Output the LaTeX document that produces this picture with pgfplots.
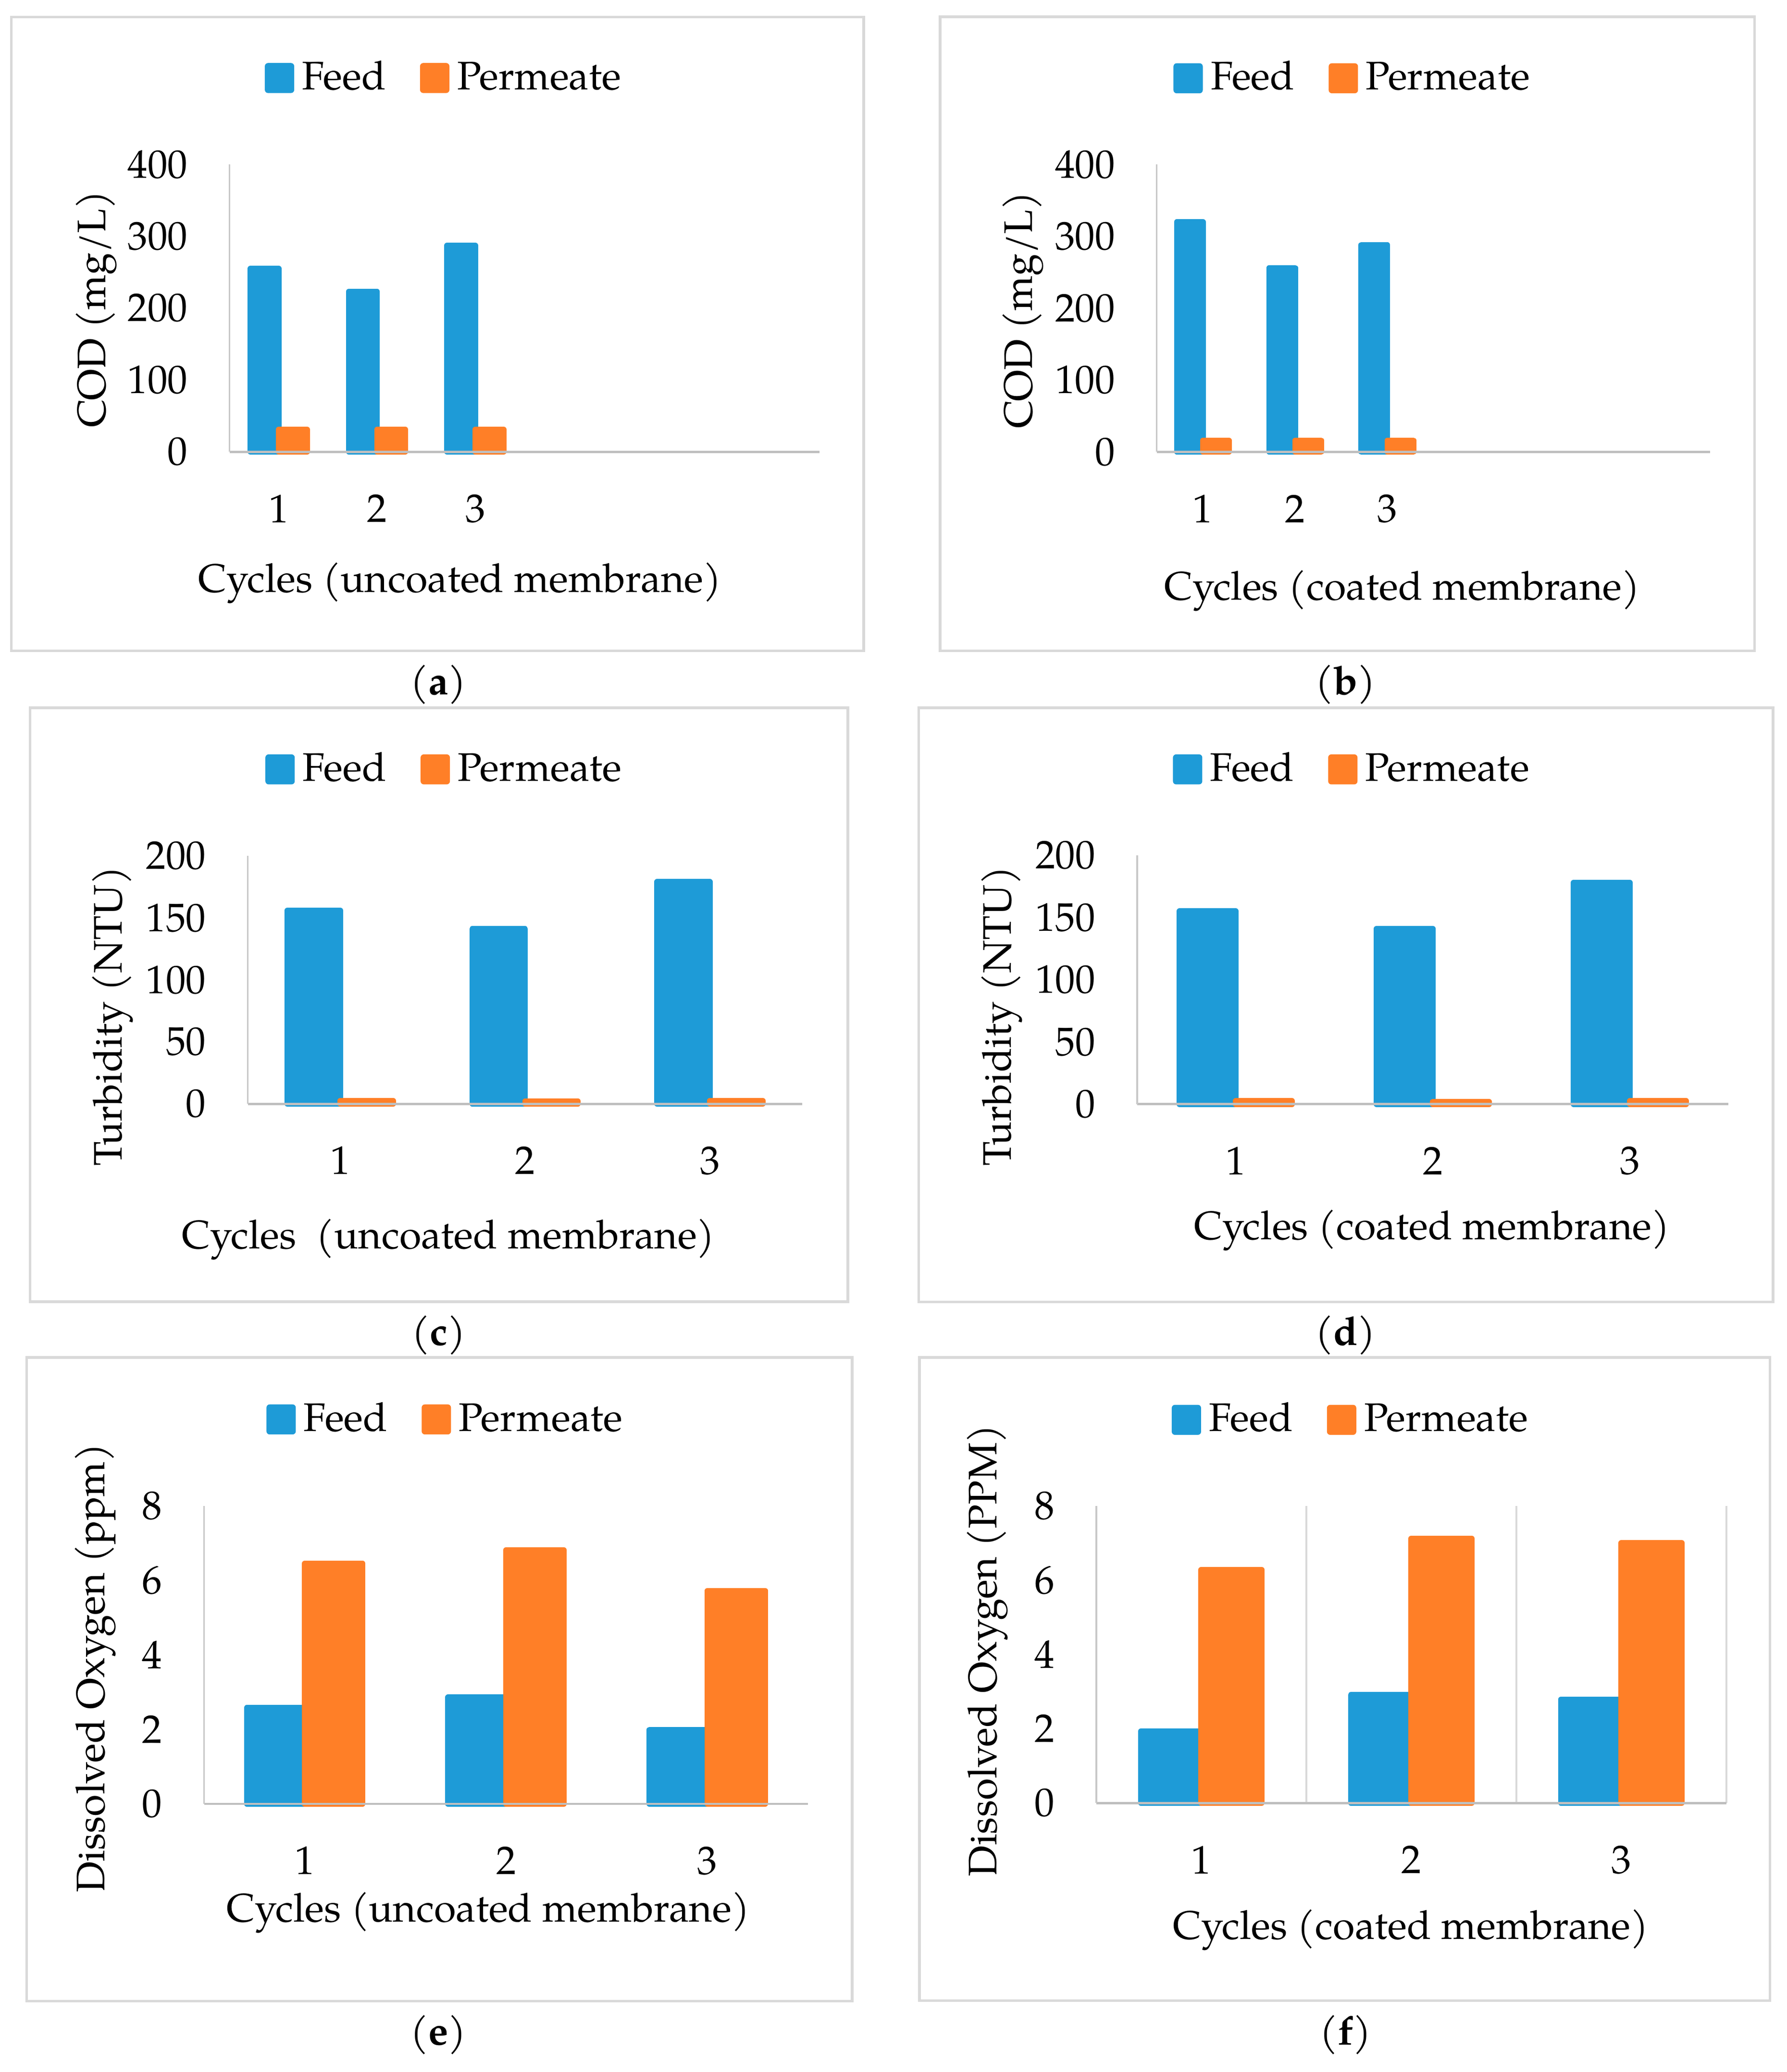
\documentclass[border=0pt]{standalone}
\usepackage{pgfplots}
\pgfplotsset{compat=1.18}
\usepackage{fontspec}
\IfFontExistsTF{TeX Gyre Pagella}{\setmainfont{TeX Gyre Pagella}}{\setmainfont{Liberation Serif}}
\newcommand\fs{\fontsize{15.1}{18}\selectfont}
\definecolor{feedblue}{HTML}{1E9BD7}
\definecolor{permorange}{HTML}{FF7F27}
\definecolor{axgray}{HTML}{BFBFBF}
\definecolor{ygray}{HTML}{C8C8C8}
\definecolor{boxgray}{HTML}{D9D9D9}
\definecolor{gridgray}{HTML}{D9D9D9}
\pgfplotsset{
  panel/.style={
    scale only axis, anchor=south west,
    ybar=0pt, clip=false, axis on top,
    enlargelimits=false,
    axis x line=bottom, axis y line=left,
    x axis line style={-, draw=axgray, line width=0.9pt},
    y axis line style={-, draw=ygray, line width=0.6pt},
    major tick length=0pt, minor tick length=0pt,
    tick style={draw=none},
    xtick={1,2,3}, ymin=0,
    /pgf/number format/assume math mode=true,
    tick label style={font=\fs, text=black},
    yticklabel style={anchor=east, inner sep=0pt, xshift=-15.65pt},
    xticklabel style={anchor=center, inner sep=0pt, yshift=-21.5pt},
    label style={font=\fs},
    legend columns=2,
    legend style={draw=none, fill=none, inner sep=0pt, outer sep=0pt, font=\fs,
      anchor=south west, cells={anchor=base west}, nodes={inner sep=0pt},
      /tikz/every odd column/.append style={column sep=3pt},
      /tikz/every even column/.append style={column sep=12.9pt}},
    legend image code/.code={\fill[##1,draw=none,rounded corners=1.2pt] (0pt,-1.3pt) rectangle (11.1pt,10.05pt);},
    xlabel style={anchor=base, inner sep=0pt},
    ylabel style={anchor=center, inner sep=0pt},
  },
  feed/.style={fill=feedblue, draw=feedblue, line width=2.15pt, line join=round},
  perm/.style={fill=permorange, draw=permorange, line width=2.15pt, line join=round},
}
\begin{document}
\begin{tikzpicture}[font=\fs]
\useasboundingbox (0,0) rectangle (676pt,784pt);
\fill[white] (0,0) rectangle (676pt,784pt);
% panel frames
\draw[boxgray, line width=1pt] (4.3pt,537.75pt) rectangle (326.7pt,777.5pt);
\draw[boxgray, line width=1pt] (355.6pt,537.7pt) rectangle (663.75pt,777.6pt);
\draw[boxgray, line width=1pt] (11.35pt,291.45pt) rectangle (320.7pt,516.2pt);
\draw[boxgray, line width=1pt] (347.55pt,291.35pt) rectangle (670.75pt,516.15pt);
\draw[boxgray, line width=1pt] (10.1pt,26.85pt) rectangle (322.4pt,270.35pt);
\draw[boxgray, line width=1pt] (347.8pt,27pt) rectangle (669.55pt,270.35pt);
% captions
\node[anchor=base] at (165.8pt,521.25pt) {(\textbf{a})};
\node[anchor=base] at (509pt,521.25pt) {(\textbf{b})};
\node[anchor=base] at (166pt,275pt) {(\textbf{c})};
\node[anchor=base] at (509pt,275pt) {(\textbf{d})};
\node[anchor=base] at (165.8pt,10.35pt) {(\textbf{e})};
\node[anchor=base] at (509pt,10.35pt) {(\textbf{f})};

% (a)
\begin{axis}[panel, at={(86.85pt,613.05pt)}, width=223.1pt, height=108.75pt,
  xmin=0.5, xmax=6.5, ymax=400, ytick={0,100,200,300,400}, bar width=10.7pt,
  legend style={at={(0.0598,1.2464)}},
  xlabel={Cycles (uncoated membrane)}, xlabel style={at={(axis description cs:0.3906,-0.4883)}},
  ylabel={COD (mg/L)}, ylabel style={at={(axis description cs:-0.2257,0.497)}}]
\addplot[feed] coordinates {(1,255) (2,223) (3,287)};
\addplot[perm] coordinates {(1,31) (2,31) (3,31)};
\legend{Feed,Permeate}
\end{axis}

% (b)
\begin{axis}[panel, at={(437.6pt,613pt)}, width=209.3pt, height=108.8pt,
  xmin=0.5, xmax=6.5, ymax=400, ytick={0,100,200,300,400}, bar width=9.85pt,
  legend style={at={(0.0301,1.2454)}},
  xlabel={Cycles (coated membrane)}, xlabel style={at={(axis description cs:0.4436,-0.5142)}},
  ylabel={COD (mg/L)}, ylabel style={at={(axis description cs:-0.2418,0.4936)}}]
\addplot[feed] coordinates {(1,320) (2,256) (3,288)};
\addplot[perm] coordinates {(1,16) (2,16) (3,16)};
\legend{Feed,Permeate}
\end{axis}

% (c)
\begin{axis}[panel, at={(93.75pt,366.35pt)}, width=209.75pt, height=93.8pt,
  xmin=0.5, xmax=3.5, ymax=200, ytick={0,50,100,150,200}, bar width=20pt,
  legend style={at={(0.0317,1.2863)}},
  xlabel={Cycles\ \ (uncoated membrane)}, xlabel style={at={(axis description cs:0.3621,-0.5837)}},
  ylabel={Turbidity (NTU)}, ylabel style={at={(axis description cs:-0.2434,0.3534)}}]
\addplot[feed] coordinates {(1,156) (2,141) (3,179)};
\addplot[perm] coordinates {(1,2.5) (2,2) (3,2.5)};
\legend{Feed,Permeate}
\end{axis}

% (d)
\begin{axis}[panel, at={(430.2pt,366.2pt)}, width=223.65pt, height=94.2pt,
  xmin=0.5, xmax=3.5, ymax=200, ytick={0,50,100,150,200}, bar width=21.3pt,
  legend style={at={(0.0604,1.2824)}},
  xlabel={Cycles (coated membrane)}, xlabel style={at={(axis description cs:0.4985,-0.5435)}},
  ylabel={Turbidity (NTU)}, ylabel style={at={(axis description cs:-0.2289,0.3535)}}]
\addplot[feed] coordinates {(1,155) (2,141) (3,178)};
\addplot[perm] coordinates {(1,2.5) (2,2) (3,2.5)};
\legend{Feed,Permeate}
\end{axis}

% (e)
\begin{axis}[panel, at={(77.2pt,101.45pt)}, width=228.45pt, height=112.8pt,
  xmin=0.5, xmax=3.5, ymax=8, ytick={0,2,4,6,8}, bar width=21.9pt,
  legend style={at={(0.1033,1.2376)}},
  xlabel={Cycles (uncoated membrane)}, xlabel style={at={(axis description cs:0.4706,-0.3954)}},
  ylabel={Dissolved Oxygen (ppm)}, ylabel style={at={(axis description cs:-0.1797,0.4557)}}]
\addplot[feed] coordinates {(1,2.58) (2,2.86) (3,1.99)};
\addplot[perm] coordinates {(1,6.45) (2,6.81) (3,5.72)};
\legend{Feed,Permeate}
\end{axis}

% (f)
\begin{axis}[panel, at={(414.7pt,101.8pt)}, width=238.35pt, height=112.45pt,
  xmin=0.5, xmax=3.5, ymax=8, ytick={0,2,4,6,8}, bar width=22.85pt,
  minor xtick={0.5,1.5,2.5,3.5}, xminorgrids=true,
  minor grid style={draw=gridgray, line width=0.7pt},
  legend style={at={(0.1198,1.237)}},
  xlabel={Cycles (coated membrane)}, xlabel style={at={(axis description cs:0.4995,-0.458)}},
  ylabel={Dissolved Oxygen (PPM)}, ylabel style={at={(axis description cs:-0.1731,0.5131)}}]
\addplot[feed] coordinates {(1,1.93) (2,2.91) (3,2.79)};
\addplot[perm] coordinates {(1,6.28) (2,7.12) (3,7.00)};
\legend{Feed,Permeate}
\end{axis}
\end{tikzpicture}
\end{document}
